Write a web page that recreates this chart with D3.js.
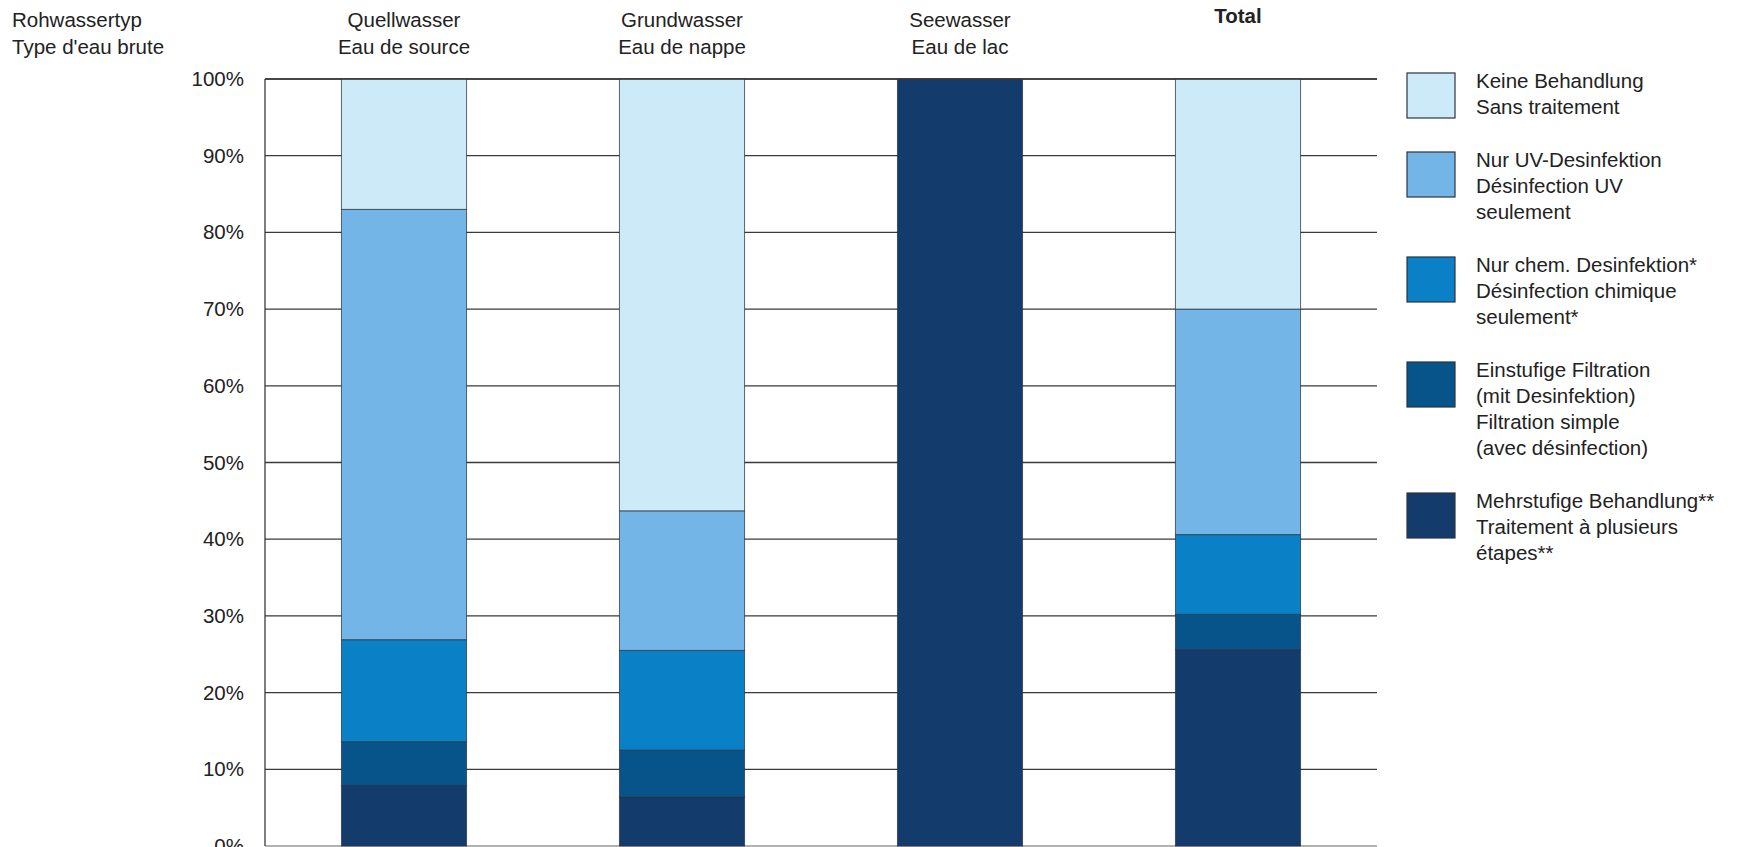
<!DOCTYPE html>
<html>
<head>
<meta charset="utf-8">
<script src="https://cdn.jsdelivr.net/npm/d3@7"></script>
<style>
  html, body { margin: 0; padding: 0; background: #fff; }
  svg { display: block; font-family: "Liberation Sans", Arial, Helvetica, sans-serif; }
</style>
</head>
<body>
<svg id="chart" width="1741" height="847"></svg>
<script>
// ---------- data ----------
const categories = ["Quellwasser", "Grundwasser", "Seewasser", "Total"];
const categoryLabelsDE = ["Quellwasser", "Grundwasser", "Seewasser", "Total"];
const categoryLabelsFR = ["Eau de source", "Eau de nappe", "Eau de lac", ""];
const seriesKeys = ["mehrstufig", "einstufig", "chem", "uv", "keine"]; // bottom -> top
const mehrstufig = [7.9, 6.4, 100, 25.6];
const einstufig  = [5.7, 6.1, 0, 4.6];
const chem       = [13.3, 13.0, 0, 10.4];
const uv         = [56.1, 18.2, 0, 29.4];
const keine      = [17.0, 56.3, 0, 30.0];
const yTicks = [0, 10, 20, 30, 40, 50, 60, 70, 80, 90, 100];
const legendLabels = [
  ["Keine Behandlung", "Sans traitement"],
  ["Nur UV-Desinfektion", "Désinfection UV", "seulement"],
  ["Nur chem. Desinfektion*", "Désinfection chimique", "seulement*"],
  ["Einstufige Filtration", "(mit Desinfektion)", "Filtration simple", "(avec désinfection)"],
  ["Mehrstufige Behandlung**", "Traitement à plusieurs", "étapes**"]
];
const legendKeys = ["keine", "uv", "chem", "einstufig", "mehrstufig"];
const colors = {
  keine: "#cdeaf9",
  uv: "#74b5e7",
  chem: "#0a80c7",
  einstufig: "#07548b",
  mehrstufig: "#133b6b"
};

// ---------- build table ----------
const seriesValues = { mehrstufig, einstufig, chem, uv, keine };
const table = categories.map((c, i) => {
  const row = { cat: c };
  seriesKeys.forEach(k => row[k] = seriesValues[k][i]);
  return row;
});
const stacked = d3.stack().keys(seriesKeys)(table);

// ---------- layout ----------
const svg = d3.select("#chart");
const plotLeft = 265, plotRight = 1377, plotTop = 79, plotBottom = 846;
const x = d3.scaleBand().domain(categories).range([plotLeft, plotRight]).paddingInner(0.55).paddingOuter(0.275);
const y = d3.scaleLinear().domain([0, 100]).range([plotBottom, plotTop]);
const textColor = "#222";
const fs = 20.5;

// gridlines (behind bars)
svg.append("g").selectAll("line").data(yTicks).join("line")
  .attr("x1", plotLeft).attr("x2", plotRight)
  .attr("y1", d => y(d)).attr("y2", d => y(d))
  .attr("stroke", d => d === 0 ? "#999" : "#3a3a3a")
  .attr("stroke-width", 1.3);

// y axis line
svg.append("line")
  .attr("x1", plotLeft).attr("x2", plotLeft).attr("y1", y(100)).attr("y2", y(0))
  .attr("stroke", "#3a3a3a").attr("stroke-width", 1.3);

// bars
svg.append("g").selectAll("g").data(stacked).join("g")
  .attr("fill", d => colors[d.key])
  .selectAll("rect").data(d => d.filter(s => s[1] - s[0] > 0)).join("rect")
  .attr("x", d => x(d.data.cat))
  .attr("width", x.bandwidth())
  .attr("y", d => y(d[1]))
  .attr("height", d => y(d[0]) - y(d[1]))
  .attr("stroke", "#2b3440")
  .attr("stroke-opacity", 0.75)
  .attr("stroke-width", 1);

// top line over everything
svg.append("line")
  .attr("x1", plotLeft).attr("x2", plotRight).attr("y1", y(100)).attr("y2", y(100))
  .attr("stroke", "#3a3a3a").attr("stroke-width", 1.3);

// y tick labels
const yAxis = d3.axisLeft(y).tickValues(yTicks).tickFormat(d => d + "%").tickSize(0).tickPadding(21);
const yg = svg.append("g").attr("transform", `translate(${plotLeft},0)`).call(yAxis);
yg.select(".domain").remove();
yg.selectAll("text").attr("font-size", fs).attr("fill", textColor)
  .attr("font-family", "'Liberation Sans', Arial, sans-serif");

// header left
const hdr = svg.append("text").attr("x", 12).attr("y", 27).attr("font-size", fs).attr("fill", textColor);
hdr.append("tspan").attr("x", 12).text("Rohwassertyp");
hdr.append("tspan").attr("x", 12).attr("dy", 26.5).text("Type d'eau brute");

// category headers
categories.forEach((c, i) => {
  const cx = x(c) + x.bandwidth() / 2;
  const isTotal = c === "Total";
  const t = svg.append("text").attr("text-anchor", "middle").attr("font-size", fs)
    .attr("fill", textColor).attr("font-weight", isTotal ? "bold" : "normal")
    .attr("y", isTotal ? 23 : 27);
  t.append("tspan").attr("x", cx).text(categoryLabelsDE[i]);
  if (categoryLabelsFR[i]) t.append("tspan").attr("x", cx).attr("dy", 26.5).text(categoryLabelsFR[i]);
});

// legend
const lgX = 1407, lgTextX = 1476, lineH = 26;
let lgY = 73;
legendKeys.forEach((k, i) => {
  svg.append("rect").attr("x", lgX).attr("y", lgY).attr("width", 48).attr("height", 45)
    .attr("fill", colors[k]).attr("stroke", "#2b3440").attr("stroke-width", 1.2);
  const t = svg.append("text").attr("font-size", fs).attr("fill", textColor).attr("y", lgY + 15);
  legendLabels[i].forEach((line, j) => {
    t.append("tspan").attr("x", lgTextX).attr("dy", j === 0 ? 0 : lineH).text(line);
  });
  lgY += legendLabels[i].length * lineH + 27;
});
</script>
</body>
</html>
